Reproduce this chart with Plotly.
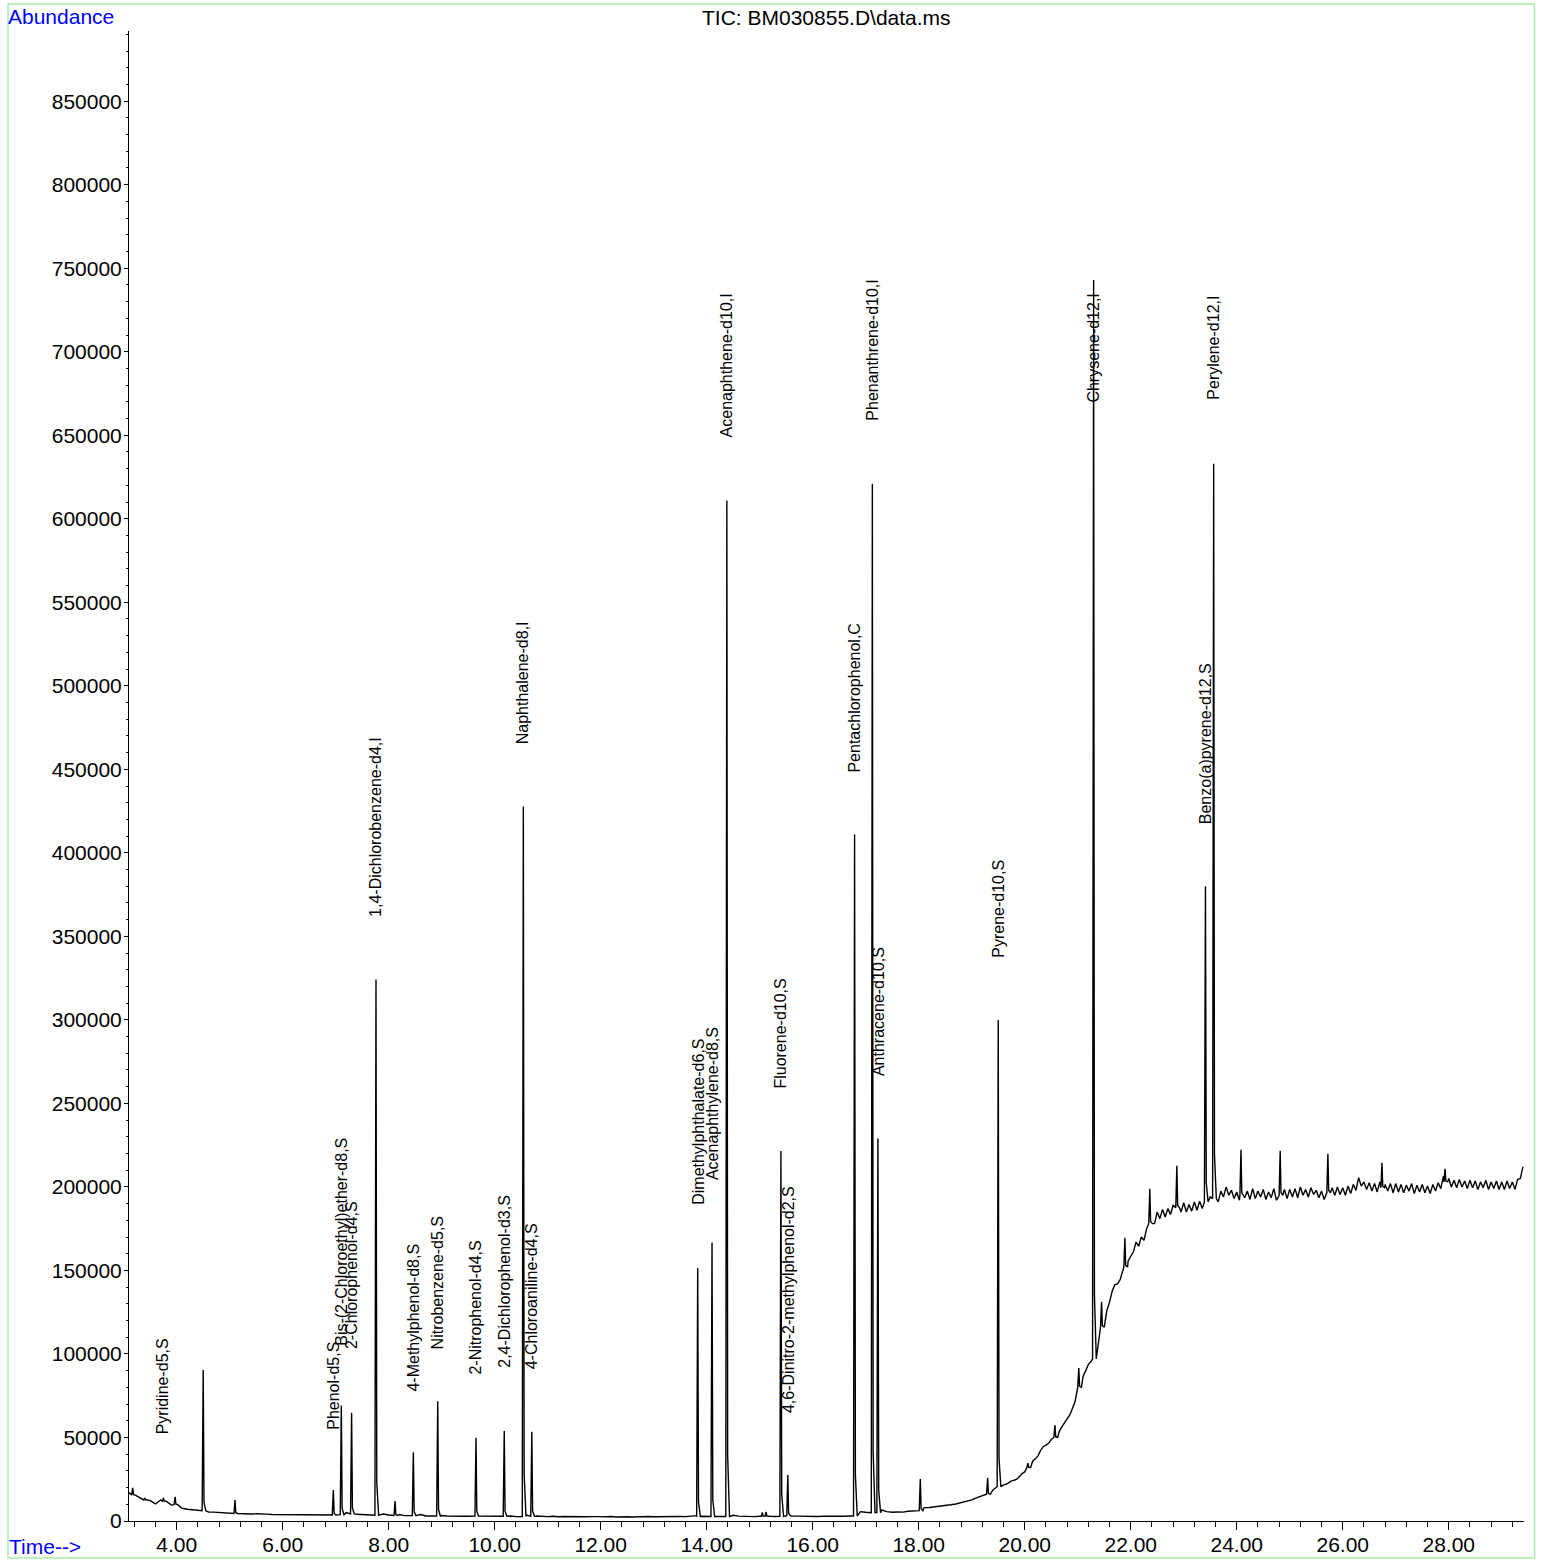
import numpy as np
import plotly.graph_objects as go

# ---------------- data ----------------
# baseline abundance (thousands) sampled every 0.1 min from 3.1 to 29.4
base_t0 = 3.1
base_step = 0.1
baseline_k = [
    17.0, 15.2, 14.0, 12.8, 12.2, 10.2, 12.6, 11.4, 9.6,
    8.2, 7.6, 7.0, 6.6, 6.2, 6.0, 5.4, 5.3, 5.0, 4.8,
    4.7, 4.5, 4.4, 4.5, 4.2, 4.3, 4.0, 4.1, 3.9, 3.9,
    3.8, 3.9, 3.7, 3.8, 3.6, 3.7, 3.6, 3.5, 3.6, 3.5,
    4.2, 4.0, 5.0, 4.6, 4.0, 3.8, 3.6, 3.5, 5.5, 4.2,
    3.6, 3.4, 3.9, 3.2, 3.1, 3.5, 3.9, 3.0, 3.1, 3.0,
    3.3, 3.0, 2.8, 2.9, 2.8, 2.8, 2.9, 3.3, 2.8, 3.0,
    2.7, 2.6, 2.9, 3.0, 2.6, 2.6, 3.6, 2.9, 3.0, 2.6,
    2.6, 2.8, 2.5, 2.7, 2.6, 2.4, 2.7, 2.5, 2.6, 2.4,
    2.6, 2.5, 2.7, 2.4, 2.6, 2.5, 2.4, 2.6, 2.5, 2.7,
    2.5, 2.6, 2.4, 2.6, 2.5, 2.7, 2.6, 2.8, 3.2, 2.8,
    2.7, 2.9, 2.6, 2.6, 3.0, 3.4, 2.9, 2.7, 2.8, 2.6,
    2.8, 2.8, 2.8, 2.7, 3.5, 3.4, 3.0, 2.9, 2.8, 2.9,
    2.8, 2.7, 2.9, 2.8, 2.7, 2.9, 2.8, 3.0, 3.5, 5.6,
    5.2, 5.0, 5.0, 6.6, 5.6, 5.2, 5.4, 5.3, 5.8, 6.0,
    6.2, 8.0, 8.1, 8.4, 8.9, 9.2, 9.7, 10.2, 10.9, 11.6,
    12.6, 14.0, 15.3, 16.5, 18.6, 20.4, 21.6, 23.0, 24.4, 26.6,
    29.4, 33.6, 37.2, 42.3, 45.4, 48.8, 51.8, 56.4, 60.8, 67.4,
    75.6, 86.4, 93.6, 98.0, 111.0, 122.5, 131.0, 141.5, 144.5, 153.5,
    158.5, 167.0, 170.0, 175.0, 179.5, 185.0, 186.5, 187.0, 189.0, 189.5,
    190.5, 189.5, 191.0, 191.5, 193.0, 194.0, 195.5, 197.5, 200.0, 198.0,
    197.0, 198.0, 197.5, 199.0, 197.5, 198.5, 197.0, 199.0, 198.0, 198.5,
    198.5, 199.0, 200.0, 198.5, 199.5, 198.0, 197.5, 198.0, 199.5, 200.0,
    199.5, 200.5, 201.5, 205.5, 203.0, 202.5, 202.0, 203.0, 201.5, 202.0,
    202.0, 201.5, 201.0, 202.0, 201.0, 201.5, 200.5, 201.5, 202.5, 206.5,
    205.0, 204.0, 204.5, 203.5, 204.0, 203.5, 203.0, 204.0, 203.0, 203.5,
    203.0, 203.5, 203.0, 204.5, 212.0,
]
# extra baseline samples (thousands) half-way between the ones above, from 19.55 to 29.35
mid_t0 = 19.55
mid_k = [
    21.4, 22.0, 24.0, 25.0, 28.4,
    31.0, 35.8, 39.0, 44.5, 46.5, 50.8, 53.5, 59.0, 63.5, 71.5,
    80.5, 90.5, 95.5, 104.0, 116.0, 126.0, 137.5, 142.0, 149.0, 155.5,
    161.0, 164.5, 168.0, 171.5, 178.0, 181.0, 182.0, 183.5, 184.0, 185.0,
    185.0, 185.5, 186.0, 187.0, 188.5, 189.5, 191.0, 194.0, 195.0, 193.0,
    192.0, 193.5, 192.5, 193.0, 194.0, 192.5, 193.5, 192.0, 193.5, 193.0,
    194.0, 193.5, 195.0, 194.0, 195.5, 193.5, 192.5, 194.0, 195.0, 195.5,
    195.0, 196.0, 198.0, 200.5, 198.5, 197.5, 197.0, 198.0, 197.5, 196.5,
    197.0, 196.5, 197.5, 196.0, 197.0, 196.5, 196.0, 197.5, 199.0, 202.0,
    200.0, 199.5, 200.0, 199.0, 199.5, 198.5, 199.5, 198.5, 199.0, 198.5,
    198.5, 199.0, 198.5, 205.0,
]

# peaks: retention time (min), apex abundance, local baseline under the peak
peak_rt = [3.17, 3.40, 3.75, 3.97, 4.50, 5.10, 6.955, 7.106, 7.30, 7.76,
           8.12, 8.465, 8.925, 9.647, 10.18, 10.54, 10.70, 13.83, 14.10, 14.38,
           15.05, 15.12, 15.40, 15.53, 16.79, 17.125, 17.23, 18.03, 19.30, 19.50,
           20.06, 20.57, 21.02, 21.30, 21.45, 21.89, 22.36, 22.87, 23.41, 23.565,
           24.08, 24.82, 25.72, 26.74, 27.93]
peak_top = [19800, 13800, 13800, 14400, 90400, 12600, 18600, 69100, 64800, 324200,
            11900, 41200, 71700, 49800, 53800, 427800, 53400, 151500, 166700, 611000,
            5200, 5400, 221500, 27500, 411000, 621000, 229000, 25200, 25800, 300000,
            34700, 57500, 91600, 743000, 131200, 169500, 198900, 212600, 380000, 633000,
            222200, 221600, 219800, 214400, 210800]
peak_base = [15500, 12600, 11800, 9800, 6100, 4500, 3600, 3800, 4200, 3500,
             3300, 3200, 3000, 2900, 2800, 2700, 2800, 2600, 2700, 2700,
             2800, 2800, 2800, 3200, 3000, 5000, 5000, 6200, 16000, 20500,
             32000, 50000, 80000, 97000, 116000, 152000, 178000, 187500, 191000, 193000,
             195000, 195000, 196500, 199500, 203000]

# compound labels
lbl_names = ["Pyridine-d5,S", "Phenol-d5,S", "Bis-(2-Chloroethyl)ether-d8,S",
             "2-Chlorophenol-d4,S", "1,4-Dichlorobenzene-d4,I", "4-Methylphenol-d8,S",
             "Nitrobenzene-d5,S", "2-Nitrophenol-d4,S", "2,4-Dichlorophenol-d3,S",
             "Naphthalene-d8,I", "4-Chloroaniline-d4,S", "Dimethylphthalate-d6,S",
             "Acenaphthylene-d8,S", "Acenaphthene-d10,I", "Fluorene-d10,S",
             "4,6-Dinitro-2-methylphenol-d2,S", "Pentachlorophenol,C", "Phenanthrene-d10,I",
             "Anthracene-d10,S", "Pyrene-d10,S", "Chrysene-d12,I",
             "Benzo(a)pyrene-d12,S", "Perylene-d12,I"]
lbl_rt = [3.74, 6.955, 7.11, 7.30, 7.76, 8.465, 8.92, 9.63, 10.19, 10.54, 10.70,
          13.83, 14.10, 14.38, 15.40, 15.53, 16.79, 17.125, 17.23, 19.50, 21.30,
          23.41, 23.565]
lbl_abund = [14700, 17700, 67500, 65600, 324500, 40600, 65600, 50600, 54800, 427800, 53600,
             152000, 166700, 611500, 221700, 27700, 411000, 621500, 229500, 300200, 632500,
             380000, 634000]

x_ticks = [4, 6, 8, 10, 12, 14, 16, 18, 20, 22, 24, 26, 28]
x_ticktext = ["%.2f" % v for v in x_ticks]
y_ticks = list(range(0, 850001, 50000))
title_text = "TIC: BM030855.D\\data.ms"

# ---------------- build trace ----------------
base_t = np.concatenate([base_t0 + base_step * np.arange(len(baseline_k)),
                         mid_t0 + base_step * np.arange(len(mid_k))])
base_y = np.concatenate([np.array(baseline_k), np.array(mid_k)]) * 1000.0

RISE, FALL1, FALL2, TAILF = 0.02, 0.015, 0.05, 0.06
pts = []
for t, y in zip(base_t, base_y):
    if any((t > r - RISE - 0.005) and (t < r + FALL2 + 0.005) for r in peak_rt):
        continue
    pts.append((t, y))
for r, a, b in zip(peak_rt, peak_top, peak_base):
    pts.append((r - RISE, b))
    pts.append((r, a))
    pts.append((r + FALL1, b + TAILF * (a - b)))
    pts.append((r + FALL2, b))
pts.sort()
xs = [p[0] for p in pts]
ys = [p[1] for p in pts]

FONT = "Liberation Sans, Arial, Helvetica, sans-serif"
fig = go.Figure()
fig.add_trace(go.Scatter(x=xs, y=ys, mode="lines",
                         line=dict(color="black", width=1.4), hoverinfo="skip"))

L, R, T, B = 129, 19, 31, 43
W, H = 1543, 1568
pw, ph = W - L - R, H - T - B

def px(xp):
    return (xp - L) / pw

def py(yp):
    return (H - B - yp) / ph

annotations = []
for n, r, a in zip(lbl_names, lbl_rt, lbl_abund):
    annotations.append(dict(x=r, y=a, xref="x", yref="y", text=n, textangle=-90,
                            showarrow=False, xanchor="center", yanchor="bottom",
                            yshift=60, font=dict(size=16, color="black", family=FONT)))
annotations.append(dict(x=px(826), y=py(17), xref="paper", yref="paper", text=title_text,
                        showarrow=False, xanchor="center", yanchor="middle",
                        font=dict(size=21, color="black", family=FONT)))
annotations.append(dict(x=px(6), y=py(16), xref="paper", yref="paper", text="Abundance",
                        showarrow=False, xanchor="left", yanchor="middle",
                        font=dict(size=21, color="#0000ff", family=FONT)))
annotations.append(dict(x=px(7), y=py(1551), xref="paper", yref="paper", text="Time-->",
                        showarrow=False, xanchor="left", yanchor="middle",
                        font=dict(size=21, color="#0000ff", family=FONT)))

fig.update_layout(
    width=W, height=H,
    margin=dict(l=L, r=R, t=T, b=B, pad=0),
    paper_bgcolor="white", plot_bgcolor="white",
    showlegend=False,
    font=dict(family=FONT, size=21, color="black"),
    annotations=annotations,
    shapes=[dict(type="rect", xref="paper", yref="paper",
                 x0=px(8), x1=px(1534.5), y0=py(1562), y1=py(4),
                 line=dict(color="#a6f0a6", width=1.5), fillcolor="rgba(0,0,0,0)",
                 layer="below")],
    xaxis=dict(range=[3.10, 29.42], tickmode="array", tickvals=x_ticks, ticktext=x_ticktext,
               showgrid=False, zeroline=False, showline=True, linecolor="black", linewidth=1,
               ticks="outside", ticklen=8, tickwidth=1, tickcolor="black",
               ticklabelstandoff=-3,
               tickfont=dict(size=21, family=FONT, color="black"),
               minor=dict(tick0=0, dtick=0.4, ticks="outside", ticklen=5, tickwidth=1,
                          tickcolor="black", showgrid=False)),
    yaxis=dict(range=[0, 892000], tickmode="array", tickvals=y_ticks,
               ticktext=[str(v) for v in y_ticks],
               showgrid=False, zeroline=False, showline=True, linecolor="black", linewidth=1,
               ticks="outside", ticklen=4, tickwidth=1, tickcolor="black",
               ticklabelstandoff=-2,
               tickfont=dict(size=21, family=FONT, color="black"),
               minor=dict(tick0=0, dtick=10000, ticks="outside", ticklen=2, tickwidth=1,
                          tickcolor="black", showgrid=False)),
)

fig.write_html("out.html", config={"displayModeBar": False},
               post_script="document.body.style.margin='0px';document.body.style.overflow='hidden';")
